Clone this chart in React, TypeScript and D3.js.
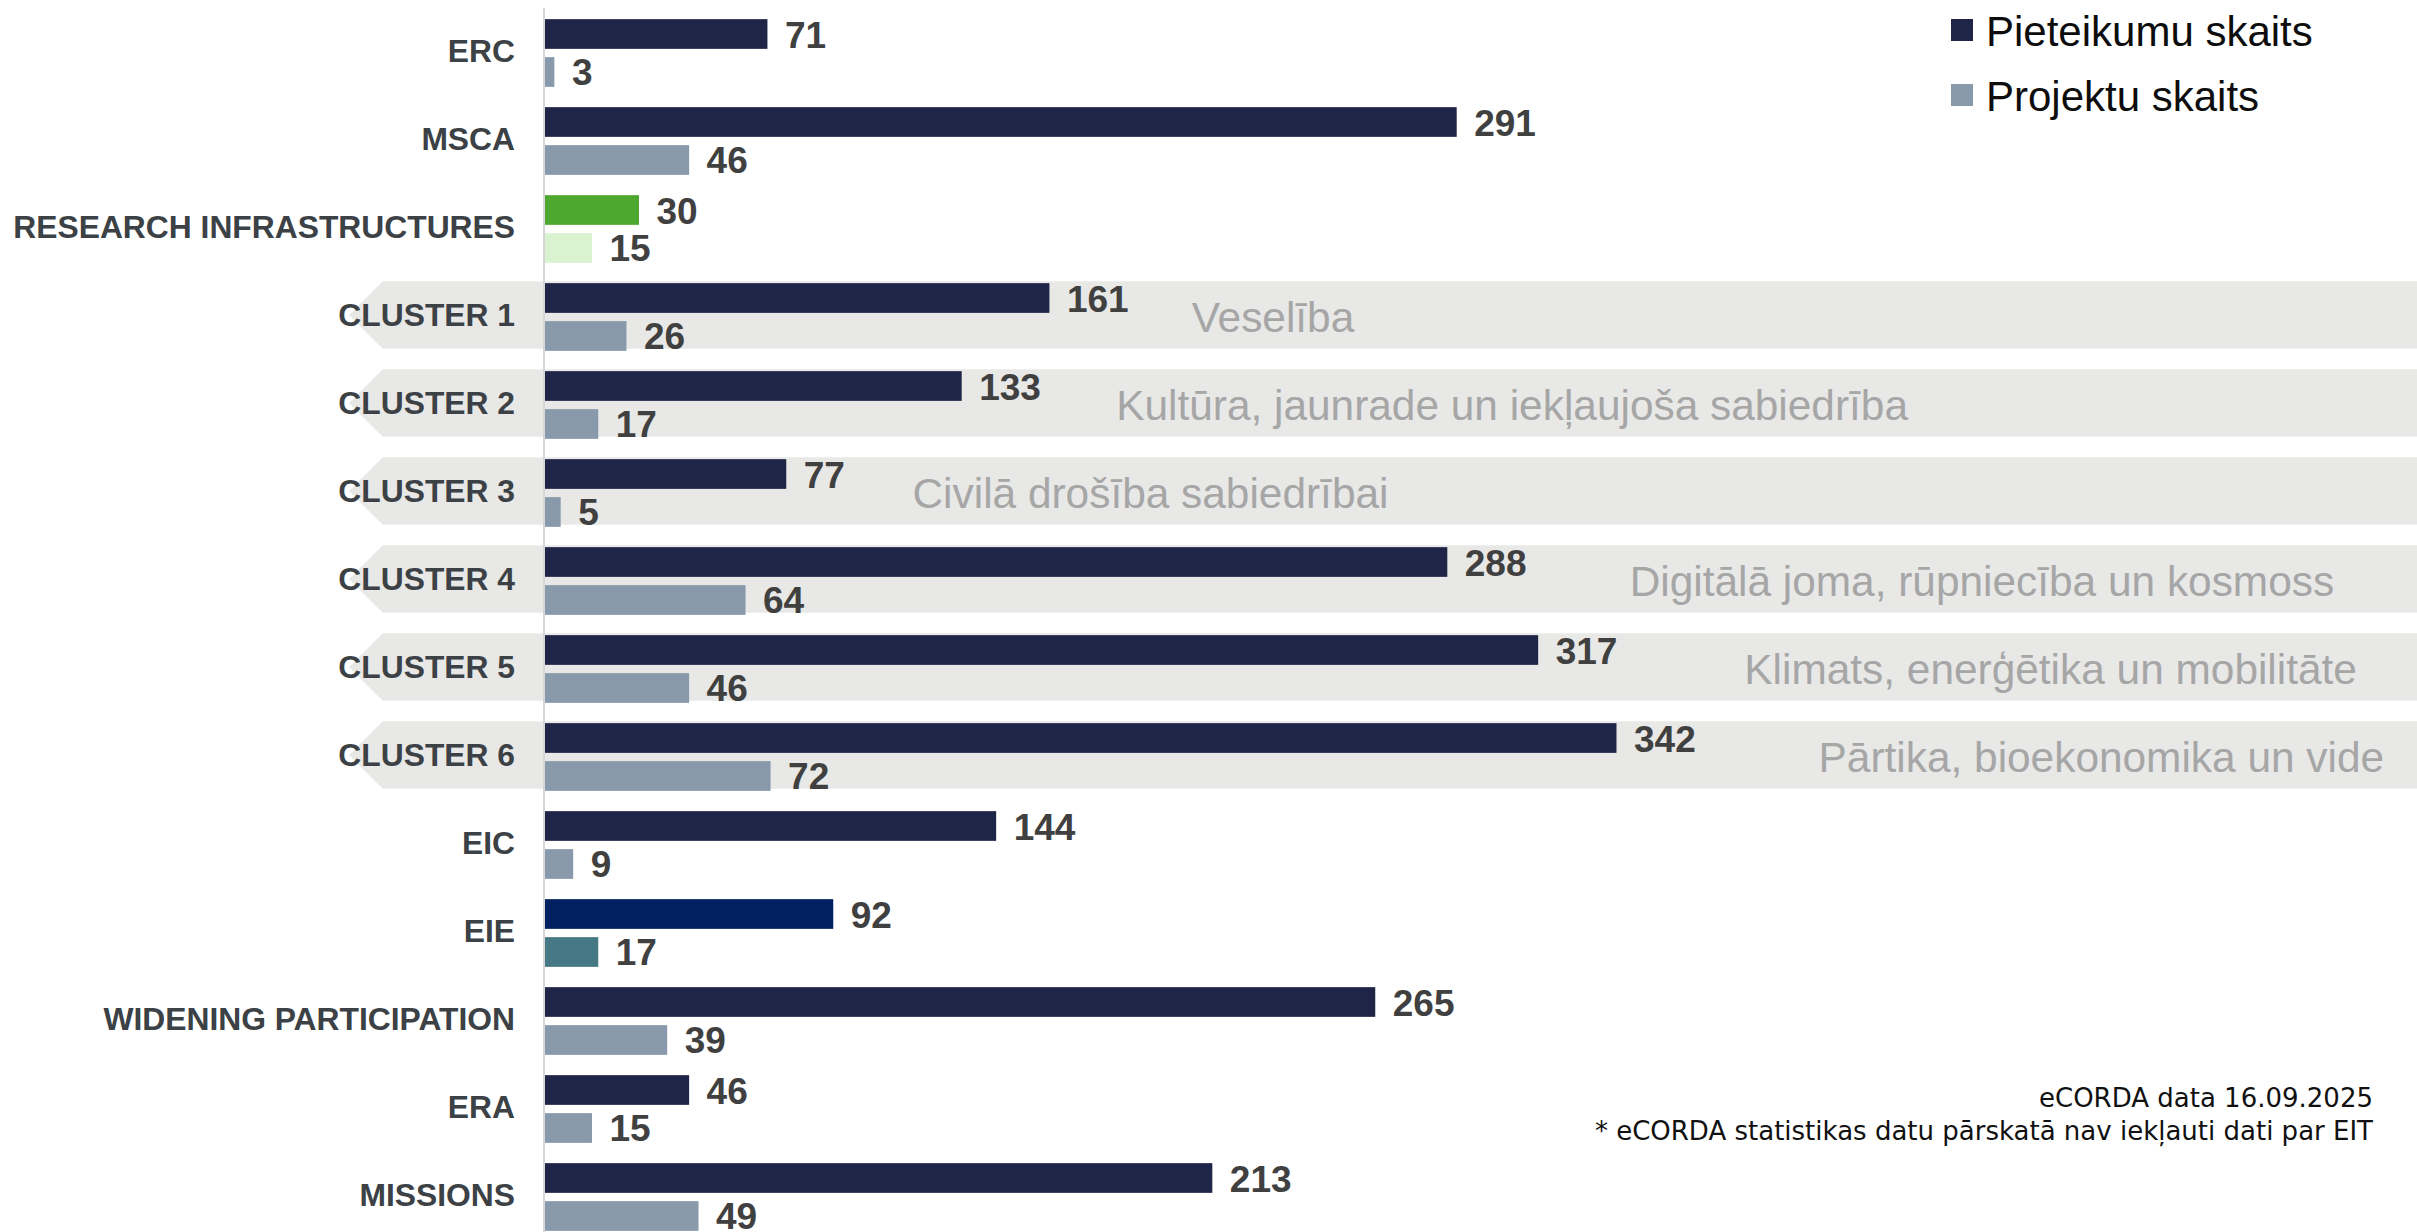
import React from "react";
import * as d3 from "d3";

const categories = [
  "ERC",
  "MSCA",
  "RESEARCH INFRASTRUCTURES",
  "CLUSTER 1",
  "CLUSTER 2",
  "CLUSTER 3",
  "CLUSTER 4",
  "CLUSTER 5",
  "CLUSTER 6",
  "EIC",
  "EIE",
  "WIDENING PARTICIPATION",
  "ERA",
  "MISSIONS",
];
const applications = [71, 291, 30, 161, 133, 77, 288, 317, 342, 144, 92, 265, 46, 213];
const projects = [3, 46, 15, 26, 17, 5, 64, 46, 72, 9, 17, 39, 15, 49];

const seriesKeys = ["applications", "projects"];
const seriesNames = ["Pieteikumu skaits", "Projektu skaits"];

const themeCategories = ["CLUSTER 1", "CLUSTER 2", "CLUSTER 3", "CLUSTER 4", "CLUSTER 5", "CLUSTER 6"];
const themeLabels = [
  "Veselība",
  "Kultūra, jaunrade un iekļaujoša sabiedrība",
  "Civilā drošība sabiedrībai",
  "Digitālā joma, rūpniecība un kosmoss",
  "Klimats, enerģētika un mobilitāte",
  "Pārtika, bioekonomika un vide",
];
// where each theme text starts, in value units of the x axis
const themeAnchors = [206.4, 182.3, 117.3, 346.2, 382.8, 406.5];

const footnotes = [
  "eCORDA data 16.09.2025",
  "* eCORDA statistikas datu pārskatā nav iekļauti dati par EIT",
];

// styles
const W = 2417;
const H = 1232;
const seriesColors = ["#1e2546", "#8799aa"];
const overrideColors: Record<string, string[]> = {
  "RESEARCH INFRASTRUCTURES": ["#4ea72e", "#d9f2d0"],
  EIE: ["#002060", "#467886"],
};
const SANS = "'Liberation Sans', Arial, sans-serif";

export default function App() {
  const x = d3.scaleLinear().domain([0, 400]).range([545, 545 + 400 * 3.133]);
  const y0 = d3
    .scaleBand<string>()
    .domain(categories)
    .range([9, 9 + categories.length * 88])
    .paddingInner(20.3 / 88)
    .paddingOuter(20.3 / 176);
  const y1 = d3
    .scaleBand<string>()
    .domain(seriesKeys)
    .range([0, y0.bandwidth()])
    .paddingInner(0.2184)
    .paddingOuter(0);

  const values: Record<string, number[]> = { applications, projects };
  const bw = y0.bandwidth();

  return (
    <svg
      width={W}
      height={H}
      viewBox={`0 0 ${W} ${H}`}
      style={{ position: "absolute", left: 0, top: 0, display: "block", background: "#fff" }}
    >
      {/* cluster backgrounds (chevrons) */}
      {themeCategories.map((c) => {
        const top = (y0(c) as number) - 2;
        const tip = 349;
        const corner = tip + bw / 2;
        const d = `M${tip},${top + bw / 2} L${corner},${top} L${W},${top} L${W},${top + bw} L${corner},${top + bw} Z`;
        return <path key={"bg" + c} d={d} fill="#e8e8e6" />;
      })}

      {/* theme descriptions */}
      {themeCategories.map((c, i) => (
        <text
          key={"th" + c}
          x={x(themeAnchors[i])}
          y={(y0(c) as number) + bw / 2}
          dominantBaseline="central"
          fontFamily={SANS}
          fontSize={42.4}
          fill="#a6a6a6"
        >
          {themeLabels[i]}
        </text>
      ))}

      {/* axis line */}
      <line x1={544} x2={544} y1={8} y2={H} stroke="#d6d6d6" strokeWidth={2} />

      {/* bars */}
      {categories.map((c, ci) =>
        seriesKeys.map((k, si) => {
          const v = values[k][ci];
          const col = overrideColors[c] ? overrideColors[c][si] : seriesColors[si];
          const yy = (y0(c) as number) + (y1(k) as number);
          return (
            <g key={c + k}>
              <rect x={x(0)} y={yy} width={x(v) - x(0)} height={y1.bandwidth()} fill={col} />
              <text
                x={x(v) + 17.5}
                y={yy + y1.bandwidth() / 2 + 1}
                dominantBaseline="central"
                fontFamily={SANS}
                fontWeight="bold"
                fontSize={37}
                fill="#404040"
              >
                {v}
              </text>
            </g>
          );
        })
      )}

      {/* category labels */}
      {categories.map((c) => (
        <text
          key={"cl" + c}
          x={515}
          y={(y0(c) as number) + bw / 2 - 2}
          textAnchor="end"
          dominantBaseline="central"
          fontFamily={SANS}
          fontWeight="bold"
          fontSize={31.8}
          fill="#3b4145"
        >
          {c}
        </text>
      ))}

      {/* legend */}
      {seriesNames.map((n, i) => (
        <g key={"lg" + n} transform={`translate(1951, ${30 + i * 65})`}>
          <rect x={0} y={-11} width={22} height={22} fill={seriesColors[i]} />
          <text x={35} y={1} dominantBaseline="central" fontFamily={SANS} fontSize={42} fill="#0d0d0d">
            {n}
          </text>
        </g>
      ))}

      {/* footnotes */}
      {footnotes.map((t, i) => (
        <text
          key={"fn" + i}
          x={2373}
          y={1107 + i * 32.5}
          textAnchor="end"
          fontFamily="'DejaVu Sans', Verdana, sans-serif"
          fontSize={26}
          fill="#111"
        >
          {t}
        </text>
      ))}
    </svg>
  );
}
